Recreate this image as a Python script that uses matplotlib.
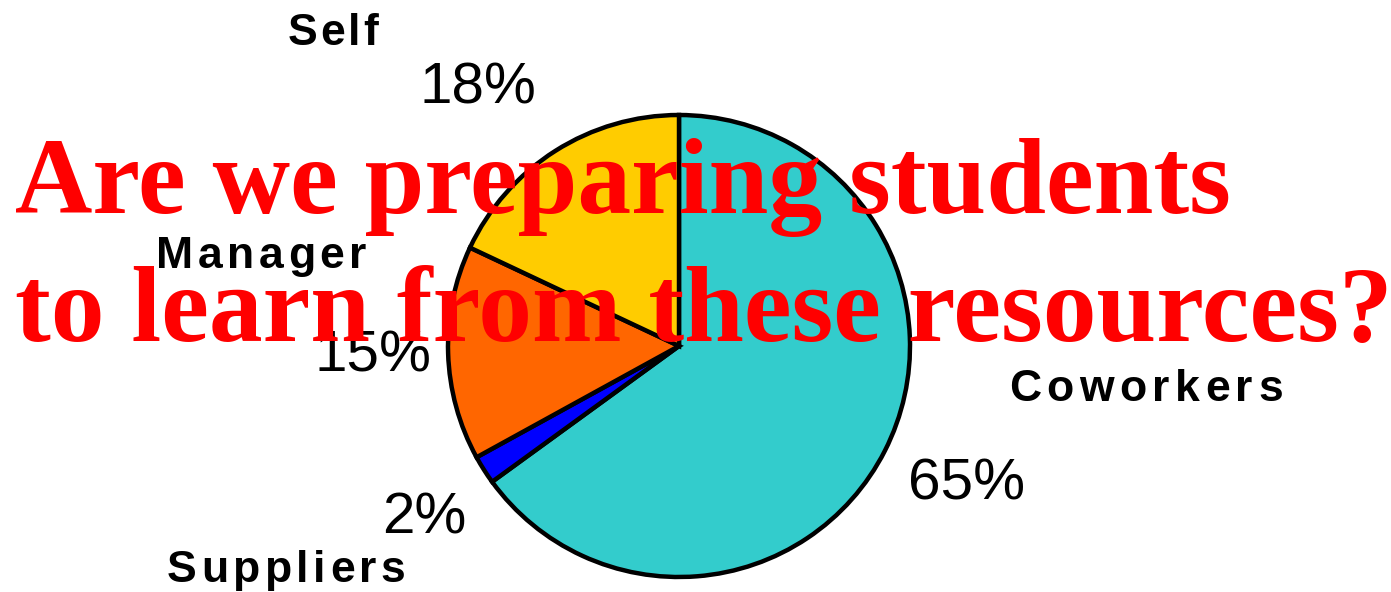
import matplotlib
matplotlib.use("Agg")
import matplotlib.pyplot as plt
from matplotlib.font_manager import FontProperties

# where learning comes from, in percent
sources = ["Coworkers", "Suppliers", "Manager", "Self"]
shares = [65, 2, 15, 18]
slice_colors = ["#33CCCC", "#0000FF", "#FF6600", "#FFCC00"]

# label anchors in pixels (x centre, baseline measured from the top)
name_pos = [(1146, 401), (286, 582), (261, 268), (333, 45)]
pct_pos = [(967, 500), (424, 533), (373, 371), (478, 103)]

title_lines = ["Are we preparing students", "to learn from these resources?"]

W, H = 1391, 592
fig = plt.figure(figsize=(W / 100, H / 100), dpi=100)
ax = fig.add_axes([0, 0, 1, 1])

ax.pie(shares, colors=slice_colors, startangle=90, counterclock=False,
       center=(679, H - 346), radius=231,
       wedgeprops=dict(edgecolor="black", linewidth=3.2))
ax.set_xlim(0, W)
ax.set_ylim(0, H)
ax.set_aspect("auto")
ax.axis("off")

renderer = fig.canvas.get_renderer()
bold = dict(family="Liberation Sans", weight="bold", size=32)


def spaced_text(s, cx, base, gap, **kw):
    """Draw s centred on cx with extra space between the letters."""
    prop = FontProperties(family=kw["family"], weight=kw["weight"], size=kw["size"])
    widths = [renderer.get_text_width_height_descent(c, prop, ismath=False)[0]
              for c in s]
    total = sum(widths) + gap * (len(s) - 1)
    x = cx - total / 2
    for c, w in zip(s, widths):
        ax.text(x, H - base, c, ha="left", va="baseline", zorder=3, **kw)
        x += w + gap


gaps = [5.5, 4.5, 4.5, 3.0]
for name, (nx, ny), g in zip(sources, name_pos, gaps):
    spaced_text(name, nx, ny, g, **bold)

for v, (px, py) in zip(shares, pct_pos):
    ax.text(px, H - py, f"{v}%", ha="center", va="baseline",
            family="Liberation Sans", size=42, zorder=3)

for line, base in zip(title_lines, [213, 341]):
    ax.text(15, H - base, line, ha="left", va="baseline", color="#FF0000",
            family="Liberation Serif", weight="bold", size=77.3, zorder=5)

fig.savefig("out.png", dpi=100)
